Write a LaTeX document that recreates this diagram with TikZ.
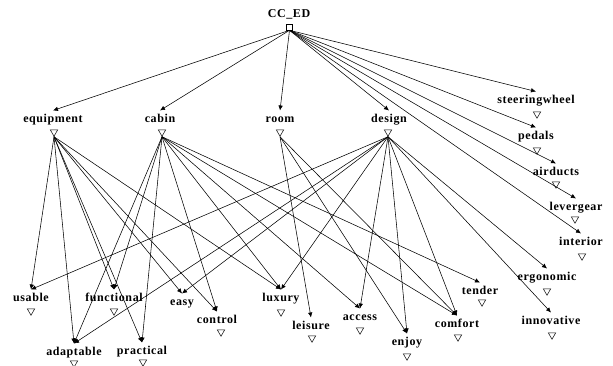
\documentclass[tikz,border=0pt]{standalone}
\usepackage{fontspec}
\usepackage{tikz}
\usetikzlibrary{shapes.geometric,arrows.meta}
\newfontfamily\lblfont{Liberation Serif}[LetterSpace=5]

\tikzset{
  lbl/.style={font=\lblfont\bfseries\fontsize{12}{14}\selectfont, inner xsep=1pt, inner ysep=0pt,
    text height=7pt, text depth=2pt, outer sep=5pt},
  tri/.style={regular polygon, regular polygon sides=3, shape border rotate=180, draw,
    minimum size=8.5pt, inner sep=0pt, line width=0.5pt},
  box/.style={rectangle, draw, minimum size=6pt, inner sep=0pt, line width=0.6pt},
  arr/.style={line width=0.55pt, -{Latex[length=5pt,width=4.5pt]}},
}

\begin{document}
\begin{tikzpicture}[x=1pt,y=-1pt]
    \useasboundingbox (0,0) rectangle (613,366);

    \node [lbl] (root) at (289, 15) {CC\_ED};
    \node [box] (root-v) at (289.5, 27) {};

    \node [lbl] (equipment) at (53, 120) {equipment};
    \node [tri] (equipment-v) at (54, 132) {};
    \node [lbl] (cabin) at (160, 120) {cabin};
    \node [tri] (cabin-v) at (162, 132) {};
    \node [lbl] (room) at (280, 120) {room};
    \node [tri] (room-v) at (280, 132) {};
    \node [lbl] (design) at (389, 120) {design};
    \node [tri] (design-v) at (388, 132) {};

    \node [lbl] (steeringwheel) at (536, 101) {steeringwheel};
    \node [tri] (steeringwheel-v) at (537, 114) {};
    \node [lbl] (pedals) at (536, 137) {pedals};
    \node [tri] (pedals-v) at (537, 150) {};
    \node [lbl] (airducts) at (556, 173) {airducts};
    \node [tri] (airducts-v) at (556, 184) {};
    \node [lbl] (levergear) at (576, 208) {levergear};
    \node [tri] (levergear-v) at (575, 219) {};
    \node [lbl] (interior) at (581, 243) {interior};
    \node [tri] (interior-v) at (582, 256) {};
    \node [lbl] (ergonomic) at (547, 278) {ergonomic};
    \node [tri] (ergonomic-v) at (547, 291) {};
    \node [lbl] (innovative) at (551, 322) {innovative};
    \node [tri] (innovative-v) at (552, 335) {};

    \node [lbl] (usable) at (31, 299) {usable};
    \node [tri] (usable-v) at (31, 311) {};
    \node [lbl] (functional) at (114, 299) {functional};
    \node [tri] (functional-v) at (114, 311) {};
    \node [lbl] (easy) at (182, 303) {easy};
    \node [lbl] (control) at (217, 321) {control};
    \node [tri] (control-v) at (221, 332) {};
    \node [lbl] (luxury) at (281, 299) {luxury};
    \node [tri] (luxury-v) at (281, 312) {};
    \node [lbl] (leisure) at (311, 327) {leisure};
    \node [tri] (leisure-v) at (312, 338) {};
    \node [lbl] (access) at (360, 318) {access};
    \node [tri] (access-v) at (360, 330) {};
    \node [lbl] (enjoy) at (407, 343) {enjoy};
    \node [tri] (enjoy-v) at (407, 356) {};
    \node [lbl] (comfort) at (457, 325) {comfort};
    \node [tri] (comfort-v) at (458, 337) {};
    \node [lbl] (tender) at (480, 292) {tender};
    \node [tri] (tender-v) at (482, 302) {};
    \node [lbl] (adaptable) at (74, 353) {adaptable};
    \node [tri] (adaptable-v) at (74, 363) {};
    \node [lbl] (practical) at (142, 352) {practical};
    \node [tri] (practical-v) at (143, 362) {};

    % top level
    \draw [arr] (root-v.south) -- (equipment.north);
    \draw [arr] (root-v.south) -- (cabin.north);
    \draw [arr] (root-v.south) -- (room.north);
    \draw [arr] (root-v.south) -- (design.north);
    \draw [arr] (root-v.south) -- (steeringwheel.north);
    \draw [arr] (root-v.south) -- (pedals.north);
    \draw [arr] (root-v.south) -- (airducts.north);
    \draw [arr] (root-v.south) -- (levergear.north);
    \draw [arr] (root-v.south) -- (interior.north);

    % equipment
    \draw [arr] (equipment-v.south) -- (usable.north);
    \draw [arr] (equipment-v.south) -- (adaptable.north);
    \draw [arr] (equipment-v.south) -- (functional.north);
    \draw [arr] (equipment-v.south) -- (practical.north);
    \draw [arr] (equipment-v.south) -- (easy.north);
    \draw [arr] (equipment-v.south) -- (control.north);
    \draw [arr] (equipment-v.south) -- (luxury.north);

    % cabin
    \draw [arr] (cabin-v.south) -- (adaptable.north);
    \draw [arr] (cabin-v.south) -- (functional.north);
    \draw [arr] (cabin-v.south) -- (practical.north);
    \draw [arr] (cabin-v.south) -- (control.north);
    \draw [arr] (cabin-v.south) -- (luxury.north);
    \draw [arr] (cabin-v.south) -- (access.north);
    \draw [arr] (cabin-v.south) -- (comfort.north);
    \draw [arr] (cabin-v.south) -- (tender.north);

    % room
    \draw [arr] (room-v.south) -- (leisure.north);
    \draw [arr] (room-v.south) -- (enjoy.north);
    \draw [arr] (room-v.south) -- (comfort.north);

    % design
    \draw [arr] (design-v.south) -- (usable.north);
    \draw [arr] (design-v.south) -- (adaptable.north);
    \draw [arr] (design-v.south) -- (easy.north);
    \draw [arr] (design-v.south) -- (luxury.north);
    \draw [arr] (design-v.south) -- (access.north);
    \draw [arr] (design-v.south) -- (enjoy.north);
    \draw [arr] (design-v.south) -- (comfort.north);
    \draw [arr] (design-v.south) -- (ergonomic.north);
    \draw [arr] (design-v.south) -- (innovative.north);
\end{tikzpicture}
\end{document}
